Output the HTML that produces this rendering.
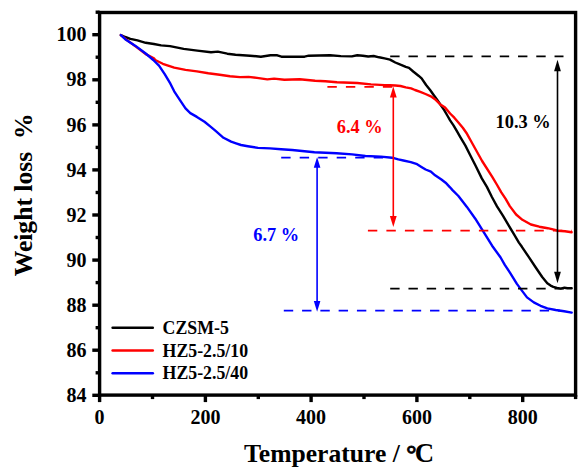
<!DOCTYPE html>
<html><head><meta charset="utf-8"><style>
html,body{margin:0;padding:0;background:#fff;}
svg{display:block;}
text{font-family:"Liberation Serif",serif;font-weight:bold;}
.tl{font-size:20px;fill:#000;}
.lg{font-size:17.8px;fill:#000;}
.an{font-size:18.1px;}
.ax{font-size:25.6px;fill:#000;}
</style></head><body>
<svg width="586" height="474" viewBox="0 0 586 474">
<rect width="586" height="474" fill="#fff"/>
<polyline points="120.9,35.1 125.2,37.0 130.4,38.8 137.5,40.4 145.7,42.8 153.9,44.0 161.1,45.4 170.0,46.1 183.7,48.9 197.3,50.6 211.0,52.3 217.8,51.6 227.3,53.7 235.5,54.7 250.0,55.7 260.9,56.7 270.5,55.3 277.3,55.3 281.4,56.7 304.6,56.7 308.7,55.7 330.0,55.3 340.9,56.1 351.8,56.4 357.3,55.3 362.8,55.7 368.2,56.5 373.7,56.0 379.1,57.3 384.6,58.4 390.0,59.6 395.3,62.5 400.5,64.7 405.8,66.8 409.0,67.8 413.2,71.5 418.5,75.7 421.6,78.4 426.1,85.0 430.3,90.3 434.0,95.5 437.1,99.8 444.2,110.1 447.6,116.0 450.1,120.3 453.5,125.3 456.9,131.2 460.3,137.1 465.4,145.6 470.5,155.7 475.6,165.8 481.8,178.4 486.9,186.9 491.9,197.0 497.0,206.3 502.9,215.6 508.8,225.7 513.9,234.1 518.9,242.6 521.9,246.8 528.7,256.9 535.4,267.0 542.2,277.0 547.3,283.3 550.6,285.6 553.3,286.8 557.0,287.8 560.7,288.6 564.4,287.7 567.5,288.2 571.7,288.2" fill="none" stroke="#000" stroke-width="2.4" stroke-linejoin="round" stroke-linecap="round"/>
<polyline points="120.9,35.1 125.2,38.7 135.5,46.4 145.7,54.1 153.9,58.2 155.2,60.0 162.8,63.8 174.2,67.6 185.5,69.9 196.9,71.4 208.3,73.3 219.7,74.8 230.0,76.2 240.0,77.1 248.5,76.9 257.0,77.9 267.3,79.4 274.1,78.6 284.4,79.7 299.7,79.3 315.1,80.8 325.3,81.3 337.0,82.2 357.3,83.0 371.0,84.4 384.6,85.1 390.0,85.2 395.3,85.5 400.5,86.0 405.8,87.3 411.1,88.4 415.0,90.0 420.3,91.9 425.5,94.0 430.8,96.3 435.0,99.2 440.0,104.2 445.1,107.6 450.1,113.5 454.3,117.7 458.6,122.8 462.8,127.8 467.0,133.8 470.4,140.0 482.1,161.0 492.4,177.2 497.1,185.0 501.3,192.4 505.5,198.7 509.8,206.1 516.1,214.5 522.4,219.8 530.9,224.5 539.3,226.7 547.7,228.2 555.0,229.8 557.4,230.7 565.0,231.2 571.6,232.2" fill="none" stroke="#f00" stroke-width="2.4" stroke-linejoin="round" stroke-linecap="round"/>
<polyline points="120.9,35.1 125.2,39.2 135.5,45.9 145.7,53.5 153.3,60.0 159.0,65.7 164.7,74.2 170.4,83.7 174.2,91.3 179.8,99.8 185.5,108.4 190.3,113.1 196.9,116.9 204.5,121.7 210.2,126.4 215.9,131.2 223.5,137.8 231.1,141.6 236.0,143.3 241.0,145.0 247.8,146.2 258.0,147.9 270.0,148.4 281.1,149.3 292.2,150.0 314.4,152.2 336.6,153.3 352.1,154.4 365.4,156.0 380.9,156.6 392.0,157.7 398.3,159.4 403.4,160.5 410.8,162.1 417.1,164.2 421.4,166.9 425.6,169.5 430.9,171.6 435.1,175.3 441.4,179.5 445.6,182.7 450.0,187.3 452.5,190.1 458.4,196.0 466.9,206.9 475.3,218.7 483.7,232.2 492.1,245.7 500.6,257.5 504.8,264.9 510.1,272.9 516.9,283.9 521.9,290.6 527.0,297.4 533.8,302.4 540.5,305.8 547.3,308.4 555.7,310.0 564.1,311.2 571.7,312.6" fill="none" stroke="#00f" stroke-width="2.4" stroke-linejoin="round" stroke-linecap="round"/>
<line x1="390.2" y1="56.4" x2="563.5" y2="56.4" stroke="#000" stroke-width="1.75" stroke-dasharray="9.4 8.86"/>
<line x1="390.2" y1="288.5" x2="572" y2="288.5" stroke="#000" stroke-width="1.75" stroke-dasharray="9.4 8.86"/>
<line x1="327.4" y1="86.8" x2="400" y2="86.8" stroke="#f00" stroke-width="1.75" stroke-dasharray="9.4 9.10"/>
<line x1="367.9" y1="230.5" x2="572" y2="230.5" stroke="#f00" stroke-width="1.75" stroke-dasharray="9.4 9.10"/>
<line x1="281.2" y1="157.7" x2="385" y2="157.7" stroke="#00f" stroke-width="1.75" stroke-dasharray="9.4 9.10"/>
<line x1="283.8" y1="310.6" x2="560" y2="310.6" stroke="#00f" stroke-width="1.75" stroke-dasharray="9.4 8.88"/>
<line x1="557.5" y1="70.2" x2="557.5" y2="272.8" stroke="#000" stroke-width="1.6"/>
<polygon points="557.5,59.7 554.1,71.2 560.9,71.2" fill="#000"/>
<polygon points="557.5,283.3 554.1,271.8 560.9,271.8" fill="#000"/>
<line x1="393.3" y1="96.6" x2="393.3" y2="217.0" stroke="#f00" stroke-width="1.6"/>
<polygon points="393.3,86.6 389.90000000000003,97.6 396.7,97.6" fill="#f00"/>
<polygon points="393.3,227.0 389.90000000000003,216.0 396.7,216.0" fill="#f00"/>
<line x1="317.1" y1="166.70000000000002" x2="317.1" y2="302.0" stroke="#00f" stroke-width="1.6"/>
<polygon points="317.1,156.9 313.8,167.70000000000002 320.40000000000003,167.70000000000002" fill="#00f"/>
<polygon points="317.1,311.8 313.8,301.0 320.40000000000003,301.0" fill="#00f"/>
<rect x="99.6" y="12.5" width="476.0" height="382.6" fill="none" stroke="#000" stroke-width="3.4"/>
<line x1="92.3" y1="395.3" x2="99.6" y2="395.3" stroke="#000" stroke-width="3.4"/>
<text x="86.6" y="401.9" text-anchor="end" class="tl">84</text>
<line x1="92.3" y1="350.2" x2="99.6" y2="350.2" stroke="#000" stroke-width="3.4"/>
<text x="86.6" y="356.8" text-anchor="end" class="tl">86</text>
<line x1="92.3" y1="305.2" x2="99.6" y2="305.2" stroke="#000" stroke-width="3.4"/>
<text x="86.6" y="311.8" text-anchor="end" class="tl">88</text>
<line x1="92.3" y1="260.1" x2="99.6" y2="260.1" stroke="#000" stroke-width="3.4"/>
<text x="86.6" y="266.7" text-anchor="end" class="tl">90</text>
<line x1="92.3" y1="215.0" x2="99.6" y2="215.0" stroke="#000" stroke-width="3.4"/>
<text x="86.6" y="221.6" text-anchor="end" class="tl">92</text>
<line x1="92.3" y1="169.9" x2="99.6" y2="169.9" stroke="#000" stroke-width="3.4"/>
<text x="86.6" y="176.5" text-anchor="end" class="tl">94</text>
<line x1="92.3" y1="124.9" x2="99.6" y2="124.9" stroke="#000" stroke-width="3.4"/>
<text x="86.6" y="131.5" text-anchor="end" class="tl">96</text>
<line x1="92.3" y1="79.8" x2="99.6" y2="79.8" stroke="#000" stroke-width="3.4"/>
<text x="86.6" y="86.4" text-anchor="end" class="tl">98</text>
<line x1="92.3" y1="34.7" x2="99.6" y2="34.7" stroke="#000" stroke-width="3.4"/>
<text x="86.6" y="41.3" text-anchor="end" class="tl">100</text>
<line x1="95.6" y1="372.8" x2="99.6" y2="372.8" stroke="#000" stroke-width="3.4"/>
<line x1="95.6" y1="327.7" x2="99.6" y2="327.7" stroke="#000" stroke-width="3.4"/>
<line x1="95.6" y1="282.6" x2="99.6" y2="282.6" stroke="#000" stroke-width="3.4"/>
<line x1="95.6" y1="237.5" x2="99.6" y2="237.5" stroke="#000" stroke-width="3.4"/>
<line x1="95.6" y1="192.5" x2="99.6" y2="192.5" stroke="#000" stroke-width="3.4"/>
<line x1="95.6" y1="147.4" x2="99.6" y2="147.4" stroke="#000" stroke-width="3.4"/>
<line x1="95.6" y1="102.3" x2="99.6" y2="102.3" stroke="#000" stroke-width="3.4"/>
<line x1="95.6" y1="57.2" x2="99.6" y2="57.2" stroke="#000" stroke-width="3.4"/>
<line x1="95.6" y1="12.2" x2="99.6" y2="12.2" stroke="#000" stroke-width="3.4"/>
<line x1="99.6" y1="395.1" x2="99.6" y2="402.1" stroke="#000" stroke-width="3.4"/>
<text x="99.6" y="423.5" text-anchor="middle" class="tl">0</text>
<line x1="205.4" y1="395.1" x2="205.4" y2="402.1" stroke="#000" stroke-width="3.4"/>
<text x="205.4" y="423.5" text-anchor="middle" class="tl">200</text>
<line x1="311.1" y1="395.1" x2="311.1" y2="402.1" stroke="#000" stroke-width="3.4"/>
<text x="311.1" y="423.5" text-anchor="middle" class="tl">400</text>
<line x1="416.9" y1="395.1" x2="416.9" y2="402.1" stroke="#000" stroke-width="3.4"/>
<text x="416.9" y="423.5" text-anchor="middle" class="tl">600</text>
<line x1="522.7" y1="395.1" x2="522.7" y2="402.1" stroke="#000" stroke-width="3.4"/>
<text x="522.7" y="423.5" text-anchor="middle" class="tl">800</text>
<line x1="152.5" y1="395.1" x2="152.5" y2="399.1" stroke="#000" stroke-width="3.4"/>
<line x1="258.3" y1="395.1" x2="258.3" y2="399.1" stroke="#000" stroke-width="3.4"/>
<line x1="364.0" y1="395.1" x2="364.0" y2="399.1" stroke="#000" stroke-width="3.4"/>
<line x1="469.8" y1="395.1" x2="469.8" y2="399.1" stroke="#000" stroke-width="3.4"/>
<line x1="575.6" y1="395.1" x2="575.6" y2="399.1" stroke="#000" stroke-width="3.4"/>
<line x1="112.6" y1="327.7" x2="152.8" y2="327.7" stroke="#000" stroke-width="2.5" stroke-linecap="round"/>
<text x="162.6" y="333.7" class="lg">CZSM-5</text>
<line x1="112.6" y1="350.5" x2="152.8" y2="350.5" stroke="#f00" stroke-width="2.5" stroke-linecap="round"/>
<text x="162.6" y="356.5" class="lg">HZ5-2.5/10</text>
<line x1="112.6" y1="373.3" x2="152.8" y2="373.3" stroke="#00f" stroke-width="2.5" stroke-linecap="round"/>
<text x="162.6" y="379.3" class="lg">HZ5-2.5/40</text>
<text transform="translate(336.7,133.2) scale(1.015,1)" class="an" fill="#f00">6.4 %</text>
<text transform="translate(495.6,128.1) scale(1.015,1)" class="an" fill="#000">10.3 %</text>
<text transform="translate(253.3,241.2) scale(1.015,1)" class="an" fill="#00f">6.7 %</text>
<text x="244.1" y="462.4" class="ax">Temperature / <tspan stroke="#000" stroke-width="0.9">°</tspan><tspan dx="-1.8" style="font-size:26.8px">C</tspan></text>
<text transform="translate(32,276.3) rotate(-90)" x="0" y="0" class="ax" xml:space="preserve">Weight loss  %</text>
</svg>
</body></html>
